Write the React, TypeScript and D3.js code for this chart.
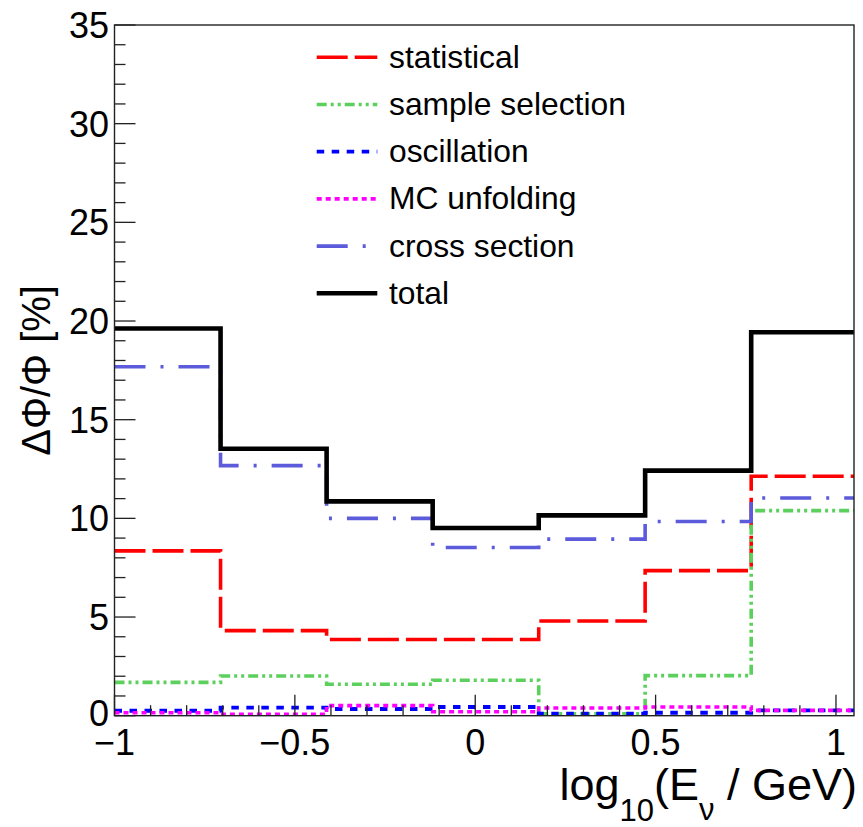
import React from "react";
import * as d3 from "d3";

// Bin edges in log10(E / GeV)
const binEdges = [-1, -0.706, -0.412, -0.118, 0.176, 0.471, 0.765, 1.059];

// Relative flux uncertainty per bin [%]
const statistical = [8.35, 4.31, 3.86, 3.86, 4.8, 7.35, 12.13];
const sampleSelection = [1.69, 2.01, 1.59, 1.8, 0.1, 2.03, 10.39];
const oscillation = [0.25, 0.41, 0.34, 0.44, 0.1, 0.15, 0.27];
const mcUnfolding = [0.15, 0.07, 0.51, 0.2, 0.39, 0.44, 0.27];
const crossSection = [17.68, 12.67, 10.0, 8.52, 8.95, 9.84, 11.03];
const total = [19.62, 13.53, 10.86, 9.51, 10.15, 12.42, 19.43];

const seriesNames = ["statistical", "sample selection", "oscillation", "MC unfolding", "cross section", "total"];
const seriesValues = [statistical, sampleSelection, oscillation, mcUnfolding, crossSection, total];

const xTickValues = [-1, -0.5, 0, 0.5, 1];
const yTickValues = [0, 5, 10, 15, 20, 25, 30, 35];

const styles = [
  { color: "#ff0000", width: 3.6, dash: "31 7" },
  { color: "#5cd05c", width: 3.6, dash: "10 4 3 4 3 4" },
  { color: "#0000ff", width: 3.8, dash: "7.5 7.5" },
  { color: "#ff00ff", width: 3.6, dash: "5 4" },
  { color: "#5b5bdb", width: 3.6, dash: "31 15 3 15" },
  { color: "#000000", width: 4.6, dash: "none" },
];

const W = 863;
const H = 827;
const left = 114.5;
const right = 854;
const top = 25;
const bottom = 715.7;
const font = "Liberation Sans, Arial, Helvetica, sans-serif";

export default function App() {
  const x = d3.scaleLinear().domain([-1, 1.05]).range([left, right]);
  const y = d3.scaleLinear().domain([0, 35]).range([bottom, top]);

  const stepLine = d3
    .line<[number, number]>()
    .x((d) => x(d[0]))
    .y((d) => y(d[1]))
    .curve(d3.curveStepAfter);

  const pathFor = (vals: number[]) => {
    const pts: [number, number][] = vals.map((v, i) => [binEdges[i], v]);
    pts.push([binEdges[binEdges.length - 1], vals[vals.length - 1]]);
    return stepLine(pts) || "";
  };

  const xMinor = d3.range(-10, 11).map((k) => k / 10).filter((v) => !xTickValues.some((t) => Math.abs(t - v) < 1e-9));
  const yMinor = d3.range(0, 36).filter((v) => v % 5 !== 0);

  const fmt = (v: number) => (v < 0 ? "\u2212" + String(Math.abs(v)) : String(v));

  const legendX1 = 316.7;
  const legendX2 = 377.3;
  const legendTextX = 389;
  const legendY0 = 57.3;
  const legendStep = 47.2;

  return (
    <svg
      width={W}
      height={H}
      style={{ position: "absolute", left: 0, top: 0, background: "#fff" }}
      fontFamily={font}
    >
      <defs>
        <clipPath id="plotArea">
          <rect x={left} y={top - 10} width={right - left} height={bottom - top + 20} />
        </clipPath>
      </defs>
      <rect x={0} y={0} width={W} height={H} fill="#fff" />

      {/* histograms */}
      <g clipPath="url(#plotArea)">
        {seriesValues.map((vals, i) => (
          <path
            key={seriesNames[i]}
            d={pathFor(vals)}
            fill="none"
            stroke={styles[i].color}
            strokeWidth={styles[i].width}
            strokeDasharray={styles[i].dash}
            strokeLinejoin="miter"
            strokeLinecap="butt"
          />
        ))}
      </g>

      {/* frame */}
      <rect x={left} y={top} width={right - left} height={bottom - top} fill="none" stroke="#222" strokeWidth={1.4} />

      {/* x ticks */}
      {xTickValues.map((t) => (
        <line key={"xt" + t} x1={x(t)} x2={x(t)} y1={bottom} y2={bottom - 21} stroke="#222" strokeWidth={1.3} />
      ))}
      {xMinor.map((t) => (
        <line key={"xm" + t} x1={x(t)} x2={x(t)} y1={bottom} y2={bottom - 10.5} stroke="#222" strokeWidth={1.3} />
      ))}
      {xTickValues.map((t) => (
        <text key={"xl" + t} x={x(t)} y={755} fontSize={36} textAnchor="middle" fill="#000">
          {fmt(t)}
        </text>
      ))}

      {/* y ticks */}
      {yTickValues.map((t) => (
        <line key={"yt" + t} x1={left} x2={left + 21} y1={y(t)} y2={y(t)} stroke="#222" strokeWidth={1.3} />
      ))}
      {yMinor.map((t) => (
        <line key={"ym" + t} x1={left} x2={left + 11} y1={y(t)} y2={y(t)} stroke="#222" strokeWidth={1.3} />
      ))}
      {yTickValues.map((t) => (
        <text key={"yl" + t} x={109} y={y(t) + (t === 0 ? 10 : 13)} fontSize={36} textAnchor="end" fill="#000">
          {fmt(t)}
        </text>
      ))}

      {/* axis titles */}
      <text x={857} y={800} fontSize={45} textAnchor="end" fill="#000">
        log
        <tspan fontSize={31} dy={21}>10</tspan>
        <tspan dy={-21}>(E</tspan>
        <tspan fontSize={31} dy={20}>ν</tspan>
        <tspan dy={-20}> / GeV)</tspan>
      </text>
      <text
        transform={`translate(50, ${(top + bottom) / 2}) rotate(-90)`}
        fontSize={40}
        textAnchor="middle"
        fill="#000"
      >
        ΔΦ/Φ [%]
      </text>

      {/* legend */}
      {seriesNames.map((name, i) => {
        const ly = legendY0 + i * legendStep;
        return (
          <g key={"lg" + name}>
            <line
              x1={legendX1}
              x2={legendX2}
              y1={ly}
              y2={ly}
              stroke={styles[i].color}
              strokeWidth={styles[i].width}
              strokeDasharray={styles[i].dash}
            />
            <text x={legendTextX} y={ly + 10.5} fontSize={31.8} fill="#000">
              {name}
            </text>
          </g>
        );
      })}
    </svg>
  );
}
